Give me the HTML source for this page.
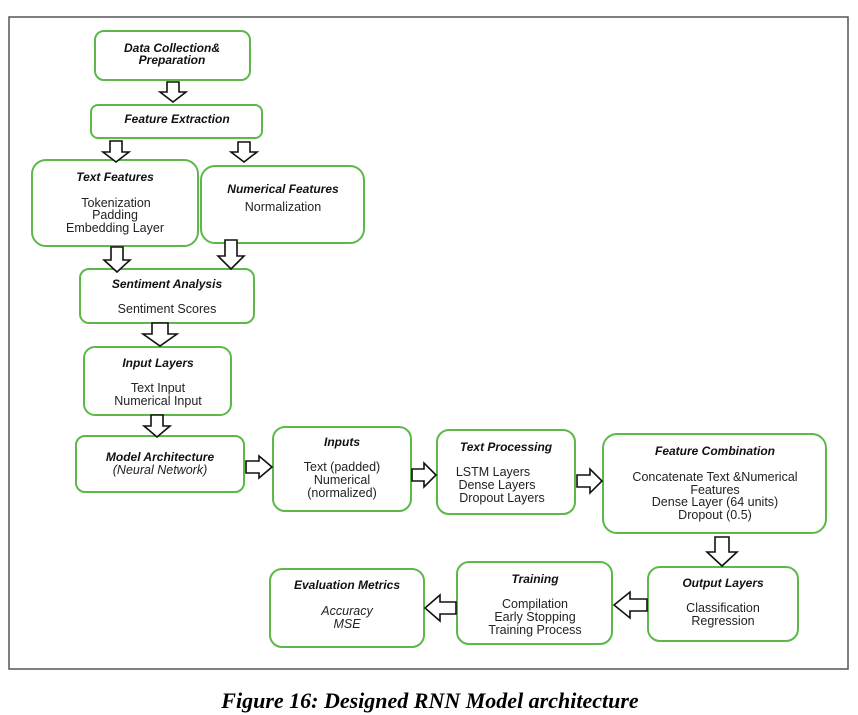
<!DOCTYPE html>
<html><head><meta charset="utf-8"><style>
html,body{margin:0;padding:0;background:#fff;width:858px;height:715px;overflow:hidden}
svg{display:block}
.b{fill:#fff;stroke:#5db84a;stroke-width:2}
.a{fill:#fff;stroke:#111;stroke-width:1.6;stroke-linejoin:miter}
text{font-family:"Liberation Sans",sans-serif;font-size:12.5px;fill:#222;text-anchor:middle}
.t{font-weight:bold;font-style:italic;font-size:12px;fill:#111}
.i{font-style:italic}
.cap{font-family:"Liberation Serif",serif;font-weight:bold;font-style:italic;font-size:22px;fill:#000}
</style></head><body>
<svg width="858" height="715" viewBox="0 0 858 715">
<rect x="9" y="17" width="839" height="652" fill="none" stroke="#555" stroke-width="1.5"/>

<rect class="b" x="95" y="31" width="155" height="49" rx="9"/>
<text class="t" x="172" y="52">Data Collection&amp;</text>
<text class="t" x="172" y="64">Preparation</text>

<rect class="b" x="91" y="105" width="171" height="33" rx="7"/>
<text class="t" x="177" y="123">Feature Extraction</text>

<rect class="b" x="32" y="160" width="166" height="86" rx="14"/>
<text class="t" x="115" y="181">Text Features</text>
<text x="116" y="207">Tokenization</text>
<text x="115" y="219">Padding</text>
<text x="115" y="232">Embedding Layer</text>

<rect class="b" x="201" y="166" width="163" height="77" rx="14"/>
<text class="t" x="283" y="193">Numerical Features</text>
<text x="283" y="211">Normalization</text>

<rect class="b" x="80" y="269" width="174" height="54" rx="9"/>
<text class="t" x="167" y="288">Sentiment Analysis</text>
<text x="167" y="313">Sentiment Scores</text>

<rect class="b" x="84" y="347" width="147" height="68" rx="11"/>
<text class="t" x="158" y="367">Input Layers</text>
<text x="158" y="392">Text Input</text>
<text x="158" y="405">Numerical Input</text>

<rect class="b" x="76" y="436" width="168" height="56" rx="9"/>
<text class="t" x="160" y="461">Model Architecture</text>
<text class="i" x="160" y="474">(Neural Network)</text>

<rect class="b" x="273" y="427" width="138" height="84" rx="12"/>
<text class="t" x="342" y="446">Inputs</text>
<text x="342" y="471">Text (padded)</text>
<text x="342" y="484">Numerical</text>
<text x="342" y="497">(normalized)</text>

<rect class="b" x="437" y="430" width="138" height="84" rx="12"/>
<text class="t" x="506" y="451">Text Processing</text>
<text x="493" y="476">LSTM Layers</text>
<text x="497" y="489">Dense Layers</text>
<text x="502" y="502">Dropout Layers</text>

<rect class="b" x="603" y="434" width="223" height="99" rx="14"/>
<text class="t" x="715" y="455">Feature Combination</text>
<text x="715" y="481">Concatenate Text &amp;Numerical</text>
<text x="715" y="494">Features</text>
<text x="715" y="506">Dense Layer (64 units)</text>
<text x="715" y="519">Dropout (0.5)</text>

<rect class="b" x="648" y="567" width="150" height="74" rx="12"/>
<text class="t" x="723" y="587">Output Layers</text>
<text x="723" y="612">Classification</text>
<text x="723" y="625">Regression</text>

<rect class="b" x="457" y="562" width="155" height="82" rx="12"/>
<text class="t" x="535" y="583">Training</text>
<text x="535" y="608">Compilation</text>
<text x="535" y="621">Early Stopping</text>
<text x="535" y="634">Training Process</text>

<rect class="b" x="270" y="569" width="154" height="78" rx="12"/>
<text class="t" x="347" y="589">Evaluation Metrics</text>
<text class="i" x="347" y="615">Accuracy</text>
<text class="i" x="347" y="628">MSE</text>

<polygon class="a" points="167,82 179,82 179,92 186,92 173,102 160,92 167,92"/>
<polygon class="a" points="110,141 122,141 122,152 129,152 116,162 103,152 110,152"/>
<polygon class="a" points="238,142 250,142 250,152 257,152 244,162 231,152 238,152"/>
<polygon class="a" points="111,247 123,247 123,260 130,260 117,272 104,260 111,260"/>
<polygon class="a" points="225,240 237,240 237,256 244,256 231,269 218,256 225,256"/>
<polygon class="a" points="152,323 168,323 168,334 177,334 160,346 143,334 152,334"/>
<polygon class="a" points="151,415 163,415 163,426 170,426 157,437 144,426 151,426"/>
<polygon class="a" points="246,461 259,461 259,456 272,467 259,478 259,473 246,473"/>
<polygon class="a" points="412,469 424,469 424,463 436,475 424,487 424,481 412,481"/>
<polygon class="a" points="577,475 590,475 590,469 602,481 590,493 590,487 577,487"/>
<polygon class="a" points="715,537 729,537 729,552 737,552 722,566 707,552 715,552"/>
<polygon class="a" points="647,599 630,599 630,592 614,605 630,618 630,611 647,611"/>
<polygon class="a" points="456,602 440,602 440,595 425,608 440,621 440,614 456,614"/>

<text class="cap" x="430" y="708">Figure 16: Designed RNN Model architecture</text>
</svg>
</body></html>
